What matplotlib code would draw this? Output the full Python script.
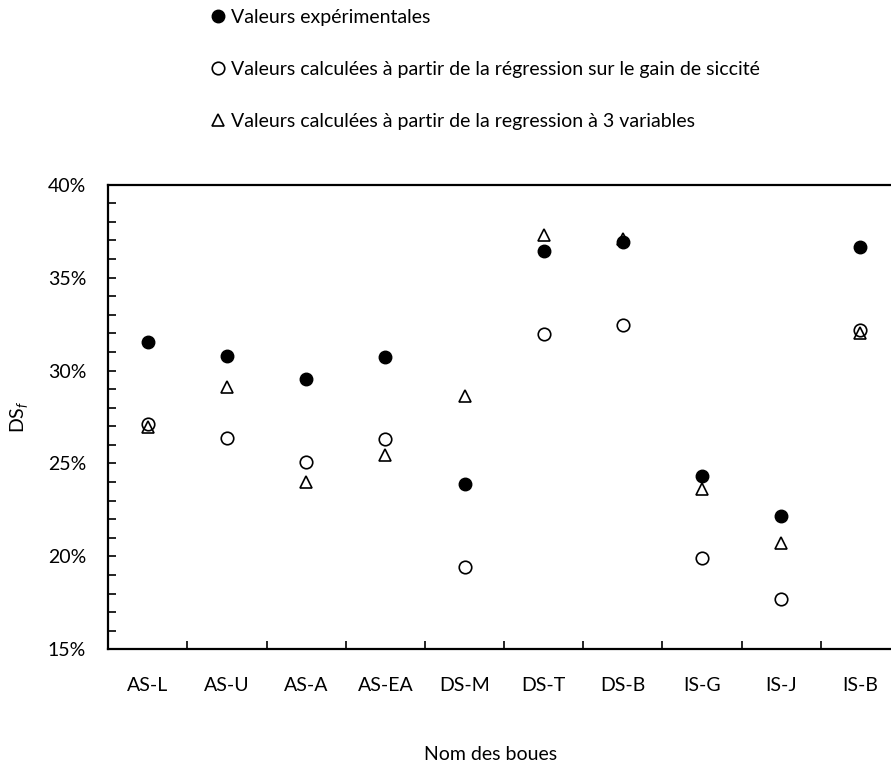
import matplotlib
matplotlib.use("Agg")
import matplotlib.pyplot as plt
from matplotlib.ticker import MultipleLocator, FuncFormatter

plt.rcParams['font.family'] = ['Lato', 'DejaVu Sans']
plt.rcParams['mathtext.fontset'] = 'custom'
plt.rcParams['mathtext.rm'] = 'Lato'
plt.rcParams['mathtext.it'] = 'Lato:italic'

# Sludge samples
categories = ["AS-L", "AS-U", "AS-A", "AS-EA", "DS-M", "DS-T", "DS-B", "IS-G", "IS-J", "IS-B"]

# Final dry solids content (%)
experimental = [31.56, 30.80, 29.55, 30.73, 23.87, 36.41, 36.94, 24.35, 22.17, 36.63]
from_gain_regression = [27.15, 26.36, 25.09, 26.29, 19.42, 31.99, 32.43, 19.89, 17.72, 32.20]
from_3var_regression = [26.98, 29.13, 23.99, 25.45, 28.63, 37.27, 37.08, 23.65, 20.73, 32.02]

labels = [
    "Valeurs expérimentales",
    "Valeurs calculées à partir de la régression sur le gain de siccité",
    "Valeurs calculées à partir de la regression à 3 variables",
]

FS = 14

fig = plt.figure(figsize=(8.91, 7.70), dpi=100)
ax = fig.add_axes([108.3 / 891, 120.7 / 770, 791.6 / 891, 464.6 / 770])

x = list(range(1, len(categories) + 1))
h1, = ax.plot(x, experimental, linestyle='none', marker='o', markersize=9,
              markerfacecolor='black', markeredgecolor='black', zorder=3)
h2, = ax.plot(x, from_gain_regression, linestyle='none', marker='o', markersize=9,
              markerfacecolor='none', markeredgecolor='black', markeredgewidth=1.2, zorder=4)
h3, = ax.plot(x, from_3var_regression, linestyle='none', marker='^', markersize=9,
              markerfacecolor='none', markeredgecolor='black', markeredgewidth=1.2, zorder=5)

ax.set_xlim(0.5, len(categories) + 0.5)
ax.set_ylim(15, 40)

ax.yaxis.set_major_locator(MultipleLocator(5))
ax.yaxis.set_minor_locator(MultipleLocator(1))
ax.yaxis.set_major_formatter(FuncFormatter(lambda v, p: f"{v:.0f}%"))

# category boundaries carry the ticks, names sit at the centres
ax.set_xticks([i + 0.5 for i in x[:-1]])
ax.set_xticklabels([])
ax.set_xticks(x, minor=True)
ax.set_xticklabels(categories, minor=True)

ax.tick_params(axis='y', which='both', direction='in', length=6, width=1.2,
               pad=16, labelsize=FS, right=False)
ax.tick_params(axis='x', which='major', direction='in', length=6, width=1.2,
               top=False)
ax.tick_params(axis='x', which='minor', length=0, pad=20, labelsize=FS)

for side in ['left', 'bottom', 'top']:
    ax.spines[side].set_linewidth(1.6)
ax.spines['right'].set_visible(False)

fig.text(19 / 891, 1 - 417 / 770, r"DS$_{\mathit{f}}$", rotation=90,
         ha='center', va='center', fontsize=FS)
fig.text(491 / 891, 1 - 755 / 770, "Nom des boues", ha='center', va='center',
         fontsize=FS)

fig.legend([h1, h2, h3], labels, loc='upper left',
           bbox_to_anchor=(212 / 891, 1 - 9 / 770), frameon=False,
           fontsize=FS, handlelength=0.6, handletextpad=0.4,
           labelspacing=1.8, borderpad=0, borderaxespad=0)

fig.savefig("out.png", dpi=100)
